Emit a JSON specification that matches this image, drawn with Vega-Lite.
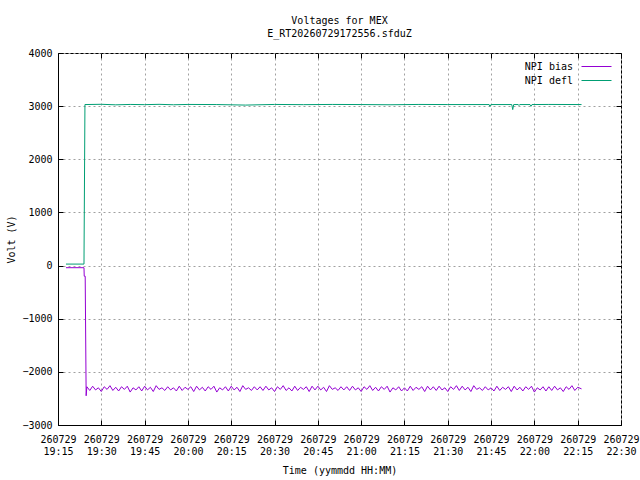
{
  "$schema": "https://vega.github.io/schema/vega-lite/v6.json",
  "autosize": {"type": "none"},
  "padding": {"left": 58, "top": 53, "right": 19, "bottom": 55},
  "width": 563,
  "height": 372,
  "background": "white",
  "title": {
    "text": ["Voltages for MEX", "E_RT20260729172556.sfduZ"],
    "font": "DejaVu Sans Mono",
    "fontSize": 10,
    "fontWeight": "normal",
    "color": "black",
    "anchor": "middle",
    "lineHeight": 13,
    "offset": 9
  },
  "data": {
    "values": [
      {"t": "2026-07-29T19:17:46", "s": "NPI bias", "v": -40},
      {"t": "2026-07-29T19:24:00", "s": "NPI bias", "v": -40},
      {"t": "2026-07-29T19:24:05", "s": "NPI bias", "v": -200},
      {"t": "2026-07-29T19:24:25", "s": "NPI bias", "v": -200},
      {"t": "2026-07-29T19:24:45", "s": "NPI bias", "v": -2450},
      {"t": "2026-07-29T19:25:00", "s": "NPI bias", "v": -2280},
      {"t": "2026-07-29T19:26:00", "s": "NPI bias", "v": -2350},
      {"t": "2026-07-29T19:27:00", "s": "NPI bias", "v": -2270},
      {"t": "2026-07-29T19:28:00", "s": "NPI bias", "v": -2340},
      {"t": "2026-07-29T19:29:00", "s": "NPI bias", "v": -2300},
      {"t": "2026-07-29T19:30:00", "s": "NPI bias", "v": -2370},
      {"t": "2026-07-29T19:31:00", "s": "NPI bias", "v": -2280},
      {"t": "2026-07-29T19:32:00", "s": "NPI bias", "v": -2330},
      {"t": "2026-07-29T19:33:00", "s": "NPI bias", "v": -2260},
      {"t": "2026-07-29T19:34:00", "s": "NPI bias", "v": -2350},
      {"t": "2026-07-29T19:35:00", "s": "NPI bias", "v": -2290},
      {"t": "2026-07-29T19:36:00", "s": "NPI bias", "v": -2360},
      {"t": "2026-07-29T19:37:00", "s": "NPI bias", "v": -2280},
      {"t": "2026-07-29T19:38:00", "s": "NPI bias", "v": -2330},
      {"t": "2026-07-29T19:39:00", "s": "NPI bias", "v": -2270},
      {"t": "2026-07-29T19:40:00", "s": "NPI bias", "v": -2380},
      {"t": "2026-07-29T19:41:00", "s": "NPI bias", "v": -2300},
      {"t": "2026-07-29T19:42:00", "s": "NPI bias", "v": -2340},
      {"t": "2026-07-29T19:43:00", "s": "NPI bias", "v": -2280},
      {"t": "2026-07-29T19:44:00", "s": "NPI bias", "v": -2360},
      {"t": "2026-07-29T19:45:00", "s": "NPI bias", "v": -2270},
      {"t": "2026-07-29T19:46:00", "s": "NPI bias", "v": -2340},
      {"t": "2026-07-29T19:47:00", "s": "NPI bias", "v": -2290},
      {"t": "2026-07-29T19:48:00", "s": "NPI bias", "v": -2370},
      {"t": "2026-07-29T19:49:00", "s": "NPI bias", "v": -2260},
      {"t": "2026-07-29T19:50:00", "s": "NPI bias", "v": -2330},
      {"t": "2026-07-29T19:51:00", "s": "NPI bias", "v": -2300},
      {"t": "2026-07-29T19:52:00", "s": "NPI bias", "v": -2350},
      {"t": "2026-07-29T19:53:00", "s": "NPI bias", "v": -2280},
      {"t": "2026-07-29T19:54:00", "s": "NPI bias", "v": -2340},
      {"t": "2026-07-29T19:55:00", "s": "NPI bias", "v": -2300},
      {"t": "2026-07-29T19:56:00", "s": "NPI bias", "v": -2360},
      {"t": "2026-07-29T19:57:00", "s": "NPI bias", "v": -2270},
      {"t": "2026-07-29T19:58:00", "s": "NPI bias", "v": -2350},
      {"t": "2026-07-29T19:59:00", "s": "NPI bias", "v": -2290},
      {"t": "2026-07-29T20:00:00", "s": "NPI bias", "v": -2330},
      {"t": "2026-07-29T20:01:00", "s": "NPI bias", "v": -2280},
      {"t": "2026-07-29T20:02:00", "s": "NPI bias", "v": -2370},
      {"t": "2026-07-29T20:03:00", "s": "NPI bias", "v": -2270},
      {"t": "2026-07-29T20:04:00", "s": "NPI bias", "v": -2340},
      {"t": "2026-07-29T20:05:00", "s": "NPI bias", "v": -2290},
      {"t": "2026-07-29T20:06:00", "s": "NPI bias", "v": -2360},
      {"t": "2026-07-29T20:07:00", "s": "NPI bias", "v": -2280},
      {"t": "2026-07-29T20:08:00", "s": "NPI bias", "v": -2330},
      {"t": "2026-07-29T20:09:00", "s": "NPI bias", "v": -2270},
      {"t": "2026-07-29T20:10:00", "s": "NPI bias", "v": -2380},
      {"t": "2026-07-29T20:11:00", "s": "NPI bias", "v": -2300},
      {"t": "2026-07-29T20:12:00", "s": "NPI bias", "v": -2340},
      {"t": "2026-07-29T20:13:00", "s": "NPI bias", "v": -2280},
      {"t": "2026-07-29T20:14:00", "s": "NPI bias", "v": -2360},
      {"t": "2026-07-29T20:15:00", "s": "NPI bias", "v": -2270},
      {"t": "2026-07-29T20:16:00", "s": "NPI bias", "v": -2340},
      {"t": "2026-07-29T20:17:00", "s": "NPI bias", "v": -2290},
      {"t": "2026-07-29T20:18:00", "s": "NPI bias", "v": -2370},
      {"t": "2026-07-29T20:19:00", "s": "NPI bias", "v": -2260},
      {"t": "2026-07-29T20:20:00", "s": "NPI bias", "v": -2330},
      {"t": "2026-07-29T20:21:00", "s": "NPI bias", "v": -2300},
      {"t": "2026-07-29T20:22:00", "s": "NPI bias", "v": -2350},
      {"t": "2026-07-29T20:23:00", "s": "NPI bias", "v": -2280},
      {"t": "2026-07-29T20:24:00", "s": "NPI bias", "v": -2340},
      {"t": "2026-07-29T20:25:00", "s": "NPI bias", "v": -2280},
      {"t": "2026-07-29T20:26:00", "s": "NPI bias", "v": -2350},
      {"t": "2026-07-29T20:27:00", "s": "NPI bias", "v": -2270},
      {"t": "2026-07-29T20:28:00", "s": "NPI bias", "v": -2340},
      {"t": "2026-07-29T20:29:00", "s": "NPI bias", "v": -2300},
      {"t": "2026-07-29T20:30:00", "s": "NPI bias", "v": -2370},
      {"t": "2026-07-29T20:31:00", "s": "NPI bias", "v": -2280},
      {"t": "2026-07-29T20:32:00", "s": "NPI bias", "v": -2330},
      {"t": "2026-07-29T20:33:00", "s": "NPI bias", "v": -2260},
      {"t": "2026-07-29T20:34:00", "s": "NPI bias", "v": -2350},
      {"t": "2026-07-29T20:35:00", "s": "NPI bias", "v": -2300},
      {"t": "2026-07-29T20:36:00", "s": "NPI bias", "v": -2360},
      {"t": "2026-07-29T20:37:00", "s": "NPI bias", "v": -2270},
      {"t": "2026-07-29T20:38:00", "s": "NPI bias", "v": -2350},
      {"t": "2026-07-29T20:39:00", "s": "NPI bias", "v": -2290},
      {"t": "2026-07-29T20:40:00", "s": "NPI bias", "v": -2330},
      {"t": "2026-07-29T20:41:00", "s": "NPI bias", "v": -2280},
      {"t": "2026-07-29T20:42:00", "s": "NPI bias", "v": -2370},
      {"t": "2026-07-29T20:43:00", "s": "NPI bias", "v": -2270},
      {"t": "2026-07-29T20:44:00", "s": "NPI bias", "v": -2340},
      {"t": "2026-07-29T20:45:00", "s": "NPI bias", "v": -2270},
      {"t": "2026-07-29T20:46:00", "s": "NPI bias", "v": -2340},
      {"t": "2026-07-29T20:47:00", "s": "NPI bias", "v": -2290},
      {"t": "2026-07-29T20:48:00", "s": "NPI bias", "v": -2370},
      {"t": "2026-07-29T20:49:00", "s": "NPI bias", "v": -2260},
      {"t": "2026-07-29T20:50:00", "s": "NPI bias", "v": -2330},
      {"t": "2026-07-29T20:51:00", "s": "NPI bias", "v": -2300},
      {"t": "2026-07-29T20:52:00", "s": "NPI bias", "v": -2350},
      {"t": "2026-07-29T20:53:00", "s": "NPI bias", "v": -2280},
      {"t": "2026-07-29T20:54:00", "s": "NPI bias", "v": -2340},
      {"t": "2026-07-29T20:55:00", "s": "NPI bias", "v": -2280},
      {"t": "2026-07-29T20:56:00", "s": "NPI bias", "v": -2350},
      {"t": "2026-07-29T20:57:00", "s": "NPI bias", "v": -2270},
      {"t": "2026-07-29T20:58:00", "s": "NPI bias", "v": -2340},
      {"t": "2026-07-29T20:59:00", "s": "NPI bias", "v": -2300},
      {"t": "2026-07-29T21:00:00", "s": "NPI bias", "v": -2370},
      {"t": "2026-07-29T21:01:00", "s": "NPI bias", "v": -2280},
      {"t": "2026-07-29T21:02:00", "s": "NPI bias", "v": -2330},
      {"t": "2026-07-29T21:03:00", "s": "NPI bias", "v": -2260},
      {"t": "2026-07-29T21:04:00", "s": "NPI bias", "v": -2350},
      {"t": "2026-07-29T21:05:00", "s": "NPI bias", "v": -2290},
      {"t": "2026-07-29T21:06:00", "s": "NPI bias", "v": -2360},
      {"t": "2026-07-29T21:07:00", "s": "NPI bias", "v": -2280},
      {"t": "2026-07-29T21:08:00", "s": "NPI bias", "v": -2330},
      {"t": "2026-07-29T21:09:00", "s": "NPI bias", "v": -2270},
      {"t": "2026-07-29T21:10:00", "s": "NPI bias", "v": -2380},
      {"t": "2026-07-29T21:11:00", "s": "NPI bias", "v": -2300},
      {"t": "2026-07-29T21:12:00", "s": "NPI bias", "v": -2340},
      {"t": "2026-07-29T21:13:00", "s": "NPI bias", "v": -2280},
      {"t": "2026-07-29T21:14:00", "s": "NPI bias", "v": -2360},
      {"t": "2026-07-29T21:15:00", "s": "NPI bias", "v": -2300},
      {"t": "2026-07-29T21:16:00", "s": "NPI bias", "v": -2360},
      {"t": "2026-07-29T21:17:00", "s": "NPI bias", "v": -2270},
      {"t": "2026-07-29T21:18:00", "s": "NPI bias", "v": -2350},
      {"t": "2026-07-29T21:19:00", "s": "NPI bias", "v": -2290},
      {"t": "2026-07-29T21:20:00", "s": "NPI bias", "v": -2330},
      {"t": "2026-07-29T21:21:00", "s": "NPI bias", "v": -2280},
      {"t": "2026-07-29T21:22:00", "s": "NPI bias", "v": -2370},
      {"t": "2026-07-29T21:23:00", "s": "NPI bias", "v": -2270},
      {"t": "2026-07-29T21:24:00", "s": "NPI bias", "v": -2340},
      {"t": "2026-07-29T21:25:00", "s": "NPI bias", "v": -2280},
      {"t": "2026-07-29T21:26:00", "s": "NPI bias", "v": -2350},
      {"t": "2026-07-29T21:27:00", "s": "NPI bias", "v": -2270},
      {"t": "2026-07-29T21:28:00", "s": "NPI bias", "v": -2340},
      {"t": "2026-07-29T21:29:00", "s": "NPI bias", "v": -2300},
      {"t": "2026-07-29T21:30:00", "s": "NPI bias", "v": -2370},
      {"t": "2026-07-29T21:31:00", "s": "NPI bias", "v": -2280},
      {"t": "2026-07-29T21:32:00", "s": "NPI bias", "v": -2330},
      {"t": "2026-07-29T21:33:00", "s": "NPI bias", "v": -2260},
      {"t": "2026-07-29T21:34:00", "s": "NPI bias", "v": -2350},
      {"t": "2026-07-29T21:35:00", "s": "NPI bias", "v": -2270},
      {"t": "2026-07-29T21:36:00", "s": "NPI bias", "v": -2340},
      {"t": "2026-07-29T21:37:00", "s": "NPI bias", "v": -2290},
      {"t": "2026-07-29T21:38:00", "s": "NPI bias", "v": -2370},
      {"t": "2026-07-29T21:39:00", "s": "NPI bias", "v": -2260},
      {"t": "2026-07-29T21:40:00", "s": "NPI bias", "v": -2330},
      {"t": "2026-07-29T21:41:00", "s": "NPI bias", "v": -2300},
      {"t": "2026-07-29T21:42:00", "s": "NPI bias", "v": -2350},
      {"t": "2026-07-29T21:43:00", "s": "NPI bias", "v": -2280},
      {"t": "2026-07-29T21:44:00", "s": "NPI bias", "v": -2340},
      {"t": "2026-07-29T21:45:00", "s": "NPI bias", "v": -2300},
      {"t": "2026-07-29T21:46:00", "s": "NPI bias", "v": -2360},
      {"t": "2026-07-29T21:47:00", "s": "NPI bias", "v": -2270},
      {"t": "2026-07-29T21:48:00", "s": "NPI bias", "v": -2350},
      {"t": "2026-07-29T21:49:00", "s": "NPI bias", "v": -2290},
      {"t": "2026-07-29T21:50:00", "s": "NPI bias", "v": -2330},
      {"t": "2026-07-29T21:51:00", "s": "NPI bias", "v": -2280},
      {"t": "2026-07-29T21:52:00", "s": "NPI bias", "v": -2370},
      {"t": "2026-07-29T21:53:00", "s": "NPI bias", "v": -2270},
      {"t": "2026-07-29T21:54:00", "s": "NPI bias", "v": -2340},
      {"t": "2026-07-29T21:55:00", "s": "NPI bias", "v": -2290},
      {"t": "2026-07-29T21:56:00", "s": "NPI bias", "v": -2360},
      {"t": "2026-07-29T21:57:00", "s": "NPI bias", "v": -2280},
      {"t": "2026-07-29T21:58:00", "s": "NPI bias", "v": -2330},
      {"t": "2026-07-29T21:59:00", "s": "NPI bias", "v": -2270},
      {"t": "2026-07-29T22:00:00", "s": "NPI bias", "v": -2380},
      {"t": "2026-07-29T22:01:00", "s": "NPI bias", "v": -2300},
      {"t": "2026-07-29T22:02:00", "s": "NPI bias", "v": -2340},
      {"t": "2026-07-29T22:03:00", "s": "NPI bias", "v": -2280},
      {"t": "2026-07-29T22:04:00", "s": "NPI bias", "v": -2360},
      {"t": "2026-07-29T22:05:00", "s": "NPI bias", "v": -2280},
      {"t": "2026-07-29T22:06:00", "s": "NPI bias", "v": -2350},
      {"t": "2026-07-29T22:07:00", "s": "NPI bias", "v": -2270},
      {"t": "2026-07-29T22:08:00", "s": "NPI bias", "v": -2340},
      {"t": "2026-07-29T22:09:00", "s": "NPI bias", "v": -2300},
      {"t": "2026-07-29T22:10:00", "s": "NPI bias", "v": -2370},
      {"t": "2026-07-29T22:11:00", "s": "NPI bias", "v": -2280},
      {"t": "2026-07-29T22:12:00", "s": "NPI bias", "v": -2330},
      {"t": "2026-07-29T22:13:00", "s": "NPI bias", "v": -2260},
      {"t": "2026-07-29T22:14:00", "s": "NPI bias", "v": -2350},
      {"t": "2026-07-29T22:15:00", "s": "NPI bias", "v": -2290},
      {"t": "2026-07-29T22:16:20", "s": "NPI bias", "v": -2320},
      {"t": "2026-07-29T19:17:46", "s": "NPI defl", "v": 28},
      {"t": "2026-07-29T19:24:00", "s": "NPI defl", "v": 28},
      {"t": "2026-07-29T19:24:20", "s": "NPI defl", "v": 3030},
      {"t": "2026-07-29T19:30:00", "s": "NPI defl", "v": 3035},
      {"t": "2026-07-29T19:35:00", "s": "NPI defl", "v": 3025},
      {"t": "2026-07-29T19:40:00", "s": "NPI defl", "v": 3032},
      {"t": "2026-07-29T19:45:00", "s": "NPI defl", "v": 3028},
      {"t": "2026-07-29T19:50:00", "s": "NPI defl", "v": 3034},
      {"t": "2026-07-29T19:55:00", "s": "NPI defl", "v": 3026},
      {"t": "2026-07-29T20:00:00", "s": "NPI defl", "v": 3032},
      {"t": "2026-07-29T20:10:00", "s": "NPI defl", "v": 3030},
      {"t": "2026-07-29T20:20:00", "s": "NPI defl", "v": 3020},
      {"t": "2026-07-29T20:30:00", "s": "NPI defl", "v": 3032},
      {"t": "2026-07-29T20:40:00", "s": "NPI defl", "v": 3028},
      {"t": "2026-07-29T20:50:00", "s": "NPI defl", "v": 3032},
      {"t": "2026-07-29T21:00:00", "s": "NPI defl", "v": 3030},
      {"t": "2026-07-29T21:10:00", "s": "NPI defl", "v": 3026},
      {"t": "2026-07-29T21:20:00", "s": "NPI defl", "v": 3032},
      {"t": "2026-07-29T21:30:00", "s": "NPI defl", "v": 3030},
      {"t": "2026-07-29T21:44:20", "s": "NPI defl", "v": 3030},
      {"t": "2026-07-29T21:44:38", "s": "NPI defl", "v": 2995},
      {"t": "2026-07-29T21:44:56", "s": "NPI defl", "v": 3030},
      {"t": "2026-07-29T21:52:10", "s": "NPI defl", "v": 3030},
      {"t": "2026-07-29T21:52:30", "s": "NPI defl", "v": 2935},
      {"t": "2026-07-29T21:52:50", "s": "NPI defl", "v": 3030},
      {"t": "2026-07-29T21:54:25", "s": "NPI defl", "v": 3030},
      {"t": "2026-07-29T21:54:40", "s": "NPI defl", "v": 3012},
      {"t": "2026-07-29T21:54:55", "s": "NPI defl", "v": 3030},
      {"t": "2026-07-29T21:58:30", "s": "NPI defl", "v": 3030},
      {"t": "2026-07-29T21:58:50", "s": "NPI defl", "v": 2998},
      {"t": "2026-07-29T21:59:10", "s": "NPI defl", "v": 3030},
      {"t": "2026-07-29T22:05:00", "s": "NPI defl", "v": 3032},
      {"t": "2026-07-29T22:16:20", "s": "NPI defl", "v": 3030}
    ]
  },
  "layer": [
    {
      "mark": {"type": "line", "strokeWidth": 1},
      "encoding": {
        "x": {
          "field": "t",
          "type": "temporal",
          "title": "Time (yymmdd HH:MM)",
          "scale": {
            "domain": [
              {"year": 2026, "month": 7, "date": 29, "hours": 19, "minutes": 15},
              {"year": 2026, "month": 7, "date": 29, "hours": 22, "minutes": 30}
            ]
          },
          "axis": {
            "tickCount": 13,
            "labelExpr": "[timeFormat(datum.value, '%y%m%d'), timeFormat(datum.value, '%H:%M')]",
            "labelLineHeight": 12,
            "labelPadding": 14,
            "titlePadding": 9
          }
        },
        "y": {
          "field": "v",
          "type": "quantitative",
          "title": "Volt (V)",
          "scale": {"domain": [-3000, 4000], "nice": false, "zero": false},
          "axis": {
            "values": [-3000, -2000, -1000, 0, 1000, 2000, 3000, 4000],
            "format": "d",
            "labelPadding": 11,
            "titlePadding": 5
          }
        },
        "color": {
          "field": "s",
          "type": "nominal",
          "scale": {"domain": ["NPI bias", "NPI defl"], "range": ["#9400d3", "#009e73"]},
          "legend": {
            "title": null,
            "orient": "top-right",
            "offset": 7.5,
            "padding": 0,
            "symbolType": "M-3,0H3",
            "symbolSize": 100,
            "symbolStrokeWidth": 1,
            "labelAlign": "right",
            "labelOffset": -29,
            "rowPadding": 3
          }
        }
      }
    },
    {
      "mark": {"type": "line", "opacity": 0},
      "encoding": {
        "x": {
          "field": "t",
          "type": "temporal",
          "axis": {
            "orient": "top",
            "tickCount": 13,
            "labels": false,
            "grid": false,
            "domain": false,
            "title": null
          }
        },
        "y": {
          "field": "v",
          "type": "quantitative",
          "axis": {
            "orient": "right",
            "values": [-3000, -2000, -1000, 0, 1000, 2000, 3000, 4000],
            "labels": false,
            "grid": false,
            "domain": false,
            "title": null
          }
        }
      }
    }
  ],
  "resolve": {"axis": {"x": "independent", "y": "independent"}},
  "config": {
    "font": "DejaVu Sans Mono",
    "view": {"stroke": "black", "strokeWidth": 1},
    "axis": {
      "labelFont": "DejaVu Sans Mono",
      "labelFontSize": 10,
      "labelColor": "black",
      "titleFont": "DejaVu Sans Mono",
      "titleFontSize": 10,
      "titleFontWeight": "normal",
      "titleColor": "black",
      "domainColor": "black",
      "tickColor": "black",
      "tickSize": -5,
      "grid": true,
      "gridColor": "#a0a0a0",
      "gridDash": [2, 3],
      "gridOpacity": 1,
      "labelFlush": false,
      "labelOverlap": false
    },
    "legend": {
      "labelFont": "DejaVu Sans Mono",
      "labelFontSize": 10,
      "labelColor": "black"
    }
  }
}
